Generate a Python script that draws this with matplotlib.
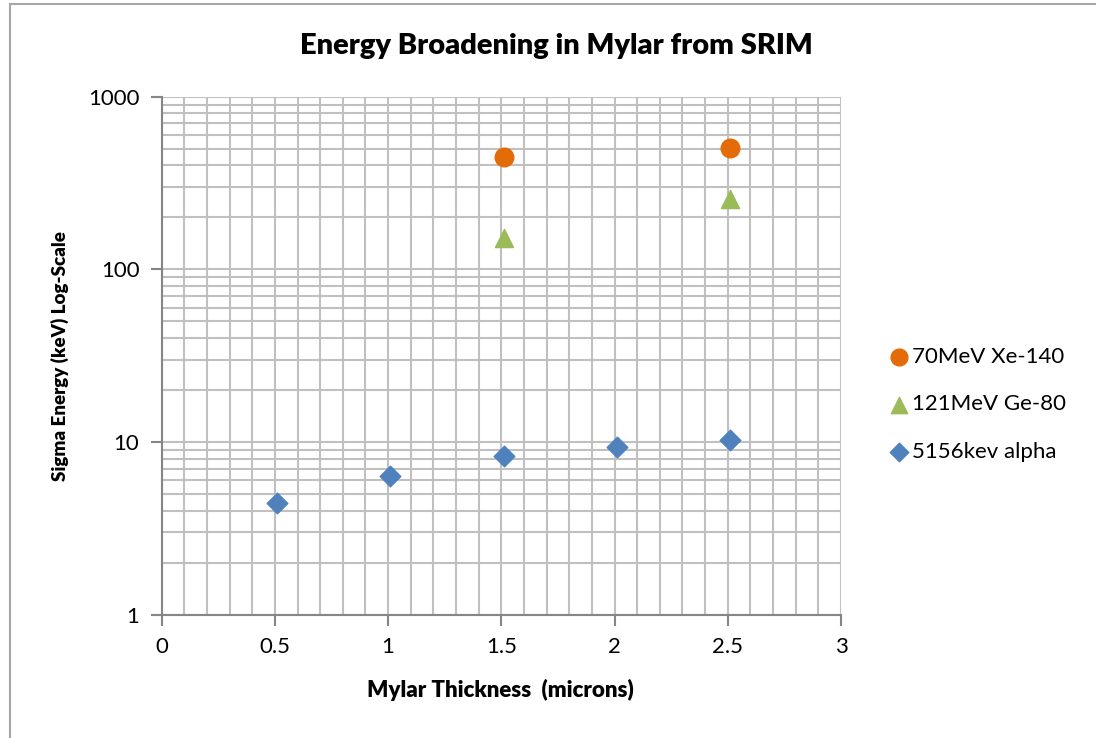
import numpy as np
import matplotlib.pyplot as plt
from matplotlib.ticker import FixedLocator, NullFormatter
from matplotlib.patches import Rectangle

# values
alpha_x = [0.51, 1.01, 1.51, 2.01, 2.51]
alpha_y = [4.42, 6.38, 8.33, 9.32, 10.27]
xe_x = [1.51, 2.51]
xe_y = [449, 506]
ge_x = [1.51, 2.51]
ge_y = [151, 255]

labels = ["70MeV Xe-140", "121MeV Ge-80", "5156kev alpha"]
colors = ["#E36C09", "#9BBB59", "#4F81BD"]

x_ticks = [0, 0.5, 1, 1.5, 2, 2.5, 3]
x_ticklabels = ["0", "0.5", "1", "1.5", "2", "2.5", "3"]
y_ticks = [1, 10, 100, 1000]
y_ticklabels = ["1", "10", "100", "1000"]

plt.rcParams["font.family"] = ["Lato", "DejaVu Sans"]

fig = plt.figure(figsize=(10.96, 7.38), dpi=100)
ax = fig.add_axes([0.1475, 0.1671, 0.7673 - 0.1475, 0.869 - 0.1671])

# chart border (only top and left edges are inside the picture)
fig.patches.append(Rectangle((9.5 / 1096, -0.1), 1.2, 1.1 - 4.5 / 738,
                             transform=fig.transFigure, fill=False,
                             edgecolor="#A6A6A6", linewidth=1.5))

ax.set_yscale("log")
ax.set_xlim(0, 3)
ax.set_ylim(1, 1000)

ax.xaxis.set_major_locator(FixedLocator(x_ticks))
ax.set_xticklabels(x_ticklabels)
ax.xaxis.set_minor_locator(FixedLocator(np.arange(0, 3.01, 0.1)))
ax.yaxis.set_major_locator(FixedLocator(y_ticks))
ax.set_yticklabels(y_ticklabels)
minor_y = [m * 10 ** d for d in range(3) for m in range(2, 10)]
ax.yaxis.set_minor_locator(FixedLocator(minor_y))
ax.yaxis.set_minor_formatter(NullFormatter())

ax.grid(True, which="both", color="#C0C0C0", linewidth=1.5)
ax.set_axisbelow(True)

for s in ["top", "right"]:
    ax.spines[s].set_visible(False)
for s in ["left", "bottom"]:
    ax.spines[s].set_color("#868686")
    ax.spines[s].set_linewidth(1.5)

ax.tick_params(which="major", direction="out", length=8, width=1.5,
               color="#868686", labelsize=16, labelcolor="#000000", pad=8)
ax.tick_params(which="minor", length=0)

ax.scatter(xe_x, xe_y, marker="o", s=180, color=colors[0], label=labels[0], zorder=3)
ax.scatter(ge_x, ge_y, marker="^", s=170, color=colors[1], label=labels[1], zorder=3)
ax.scatter(alpha_x, alpha_y, marker="D", s=110, color=colors[2], label=labels[2], zorder=3)

leg = fig.legend(loc="center left", bbox_to_anchor=(0.798, 0.452), frameon=False,
                 fontsize=16, handletextpad=0.0, labelspacing=1.25,
                 markerscale=0.9, borderpad=0, handlelength=1.2)

fig.text(0.508, 0.938, "Energy Broadening in Mylar from SRIM", ha="center",
         va="center", fontsize=21, fontweight="heavy")
fig.text(0.457, 0.065, "Mylar Thickness  (microns)", ha="center", va="center",
         fontsize=16, fontweight="heavy")
fig.text(0.055, 0.518, "Sigma Energy (keV) Log-Scale", ha="center", va="center",
         rotation=90, fontsize=13.5, fontweight="heavy")

fig.savefig("out.png", dpi=100)
